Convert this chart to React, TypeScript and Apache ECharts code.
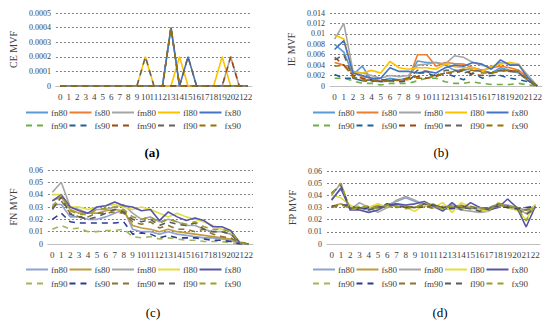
import React, { useEffect, useRef } from "react";
import * as echarts from "echarts";

const CATEGORIES = ["0","1","2","3","4","5","6","7","8","9","10","11","12","13","14","15","16","17","18","19","20","21","22"];
const NAMES = ["fn80", "fs80", "fm80", "fl80", "fx80", "fn90", "fs90", "fm90", "fl90", "fx90"];

// (a) CE MVF
const ceFn80 = [0,0,0,0,0,0,0,0,0,0,0,0,0,0.0004,0,0,0,0,0,0,0,0,0];
const ceFs80 = [0,0,0,0,0,0,0,0,0,0,0,0,0,0,0,0,0,0,0,0,0,0,0];
const ceFm80 = [0,0,0,0,0,0,0,0,0,0,0,0,0,0,0,0,0,0,0,0,0.0002,0,0];
const ceFl80 = [0,0,0,0,0,0,0,0,0,0,0.0002,0,0,0,0.0002,0,0,0,0,0.0002,0,0,0];
const ceFx80 = [0,0,0,0,0,0,0,0,0,0,0,0,0,0.0004,0,0.0002,0,0,0,0,0,0,0];
const ceFn90 = [0,0,0,0,0,0,0,0,0,0,0,0,0,0,0,0,0,0,0,0,0,0,0];
const ceFs90 = [0,0,0,0,0,0,0,0,0,0,0,0,0,0,0,0,0,0,0,0,0,0,0];
const ceFm90 = [0,0,0,0,0,0,0,0,0,0,0,0,0,0,0,0,0,0,0,0,0.0002,0,0];
const ceFl90 = [0,0,0,0,0,0,0,0,0,0,0.0002,0,0,0.0004,0,0.0002,0,0,0,0,0,0,0];
const ceFx90 = [0,0,0,0,0,0,0,0,0,0,0,0,0,0.0004,0,0,0,0,0,0,0,0,0];

// (b) IE MVF
const ieFn80 = [0.008,0.0065,0.0022,0.0038,0.0012,0.001,0.0015,0.0012,0.0015,0.0048,0.0045,0.0045,0.004,0.003,0.003,0.0035,0.003,0.0025,0.0035,0.003,0.0025,0.001,0];
const ieFs80 = [0.0045,0.004,0.0025,0.0018,0.0015,0.001,0.0012,0.001,0.0012,0.006,0.006,0.0038,0.0045,0.0043,0.0042,0.0035,0.003,0.0035,0.0038,0.0035,0.003,0.0015,0];
const ieFm80 = [0.009,0.012,0.0028,0.0025,0.002,0.0015,0.002,0.0018,0.002,0.004,0.0042,0.0045,0.0042,0.0058,0.0055,0.0045,0.004,0.0035,0.0045,0.0042,0.004,0.002,0];
const ieFl80 = [0.0098,0.009,0.0025,0.0025,0.003,0.0025,0.0047,0.0035,0.0032,0.0035,0.0035,0.0032,0.0042,0.0037,0.0035,0.0035,0.0028,0.0038,0.0042,0.0045,0.0042,0.0015,0];
const ieFx80 = [0.007,0.0087,0.0025,0.002,0.0015,0.0015,0.0035,0.0028,0.0028,0.0025,0.0028,0.0025,0.0035,0.004,0.0038,0.0045,0.0042,0.0032,0.005,0.004,0.004,0.0015,0];
const ieFn90 = [0.0015,0.0015,0.001,0.0005,0.0005,0.0002,0.0005,0.0005,0.0005,0.001,0.0015,0.0015,0.0008,0.0005,0.0005,0.0008,0.0005,0.0003,0.0003,0.0003,0.0005,0.0002,0];
const ieFs90 = [0.0022,0.0015,0.0015,0.001,0.0012,0.0008,0.001,0.0008,0.001,0.0025,0.0025,0.0018,0.0025,0.0018,0.0012,0.0025,0.0015,0.002,0.002,0.0015,0.0012,0.0008,0];
const ieFm90 = [0.0055,0.004,0.002,0.0015,0.001,0.0012,0.0012,0.0012,0.0015,0.0018,0.0015,0.0018,0.0025,0.0025,0.003,0.0022,0.002,0.0025,0.003,0.003,0.0025,0.001,0];
const ieFl90 = [0.005,0.006,0.0015,0.001,0.0008,0.0012,0.001,0.0012,0.0015,0.003,0.0028,0.002,0.003,0.003,0.0025,0.003,0.0028,0.0025,0.003,0.0028,0.0025,0.001,0];
const ieFx90 = [0.0038,0.004,0.0018,0.0012,0.001,0.0008,0.001,0.0012,0.0015,0.0015,0.0015,0.002,0.0025,0.0028,0.0032,0.003,0.0025,0.0025,0.0028,0.003,0.0028,0.0012,0];

// (c) FN MVF
const fnFn80 = [0.032,0.032,0.022,0.022,0.02,0.02,0.022,0.025,0.028,0.012,0.01,0.01,0.008,0.01,0.008,0.007,0.006,0.005,0.005,0.004,0.003,0.0005,0];
const fnFs80 = [0.035,0.038,0.028,0.025,0.025,0.025,0.027,0.028,0.027,0.015,0.013,0.012,0.01,0.012,0.01,0.009,0.008,0.007,0.006,0.005,0.004,0.001,0];
const fnFm80 = [0.042,0.05,0.03,0.028,0.025,0.028,0.028,0.03,0.032,0.025,0.02,0.022,0.018,0.02,0.018,0.015,0.015,0.012,0.01,0.01,0.008,0.001,0];
const fnFl80 = [0.04,0.04,0.03,0.03,0.028,0.03,0.031,0.032,0.03,0.028,0.03,0.028,0.025,0.022,0.025,0.022,0.02,0.018,0.015,0.012,0.01,0.002,0];
const fnFx80 = [0.035,0.04,0.03,0.027,0.025,0.03,0.031,0.034,0.031,0.03,0.027,0.028,0.019,0.026,0.022,0.019,0.021,0.019,0.014,0.014,0.011,0.001,0];
const fnFn90 = [0.012,0.015,0.012,0.013,0.01,0.01,0.011,0.011,0.012,0.006,0.005,0.006,0.004,0.005,0.004,0.003,0.003,0.002,0.002,0.002,0.001,0,0];
const fnFs90 = [0.02,0.025,0.018,0.017,0.017,0.017,0.017,0.017,0.018,0.008,0.009,0.008,0.005,0.007,0.005,0.005,0.005,0.004,0.003,0.003,0.002,0,0];
const fnFm90 = [0.03,0.035,0.025,0.022,0.022,0.025,0.025,0.026,0.025,0.018,0.016,0.018,0.013,0.015,0.012,0.012,0.01,0.012,0.008,0.006,0.005,0.001,0];
const fnFl90 = [0.028,0.038,0.024,0.022,0.02,0.022,0.025,0.028,0.026,0.02,0.018,0.02,0.015,0.018,0.016,0.015,0.017,0.012,0.01,0.01,0.008,0.001,0];
const fnFx90 = [0.03,0.04,0.027,0.024,0.024,0.028,0.029,0.03,0.028,0.022,0.02,0.022,0.017,0.02,0.018,0.016,0.018,0.014,0.012,0.012,0.01,0.001,0];

// (d) FP MVF
const fpFn80 = [0.037,0.045,0.03,0.03,0.028,0.03,0.032,0.035,0.038,0.035,0.033,0.03,0.03,0.032,0.03,0.03,0.028,0.03,0.033,0.032,0.03,0.028,0.03];
const fpFs80 = [0.031,0.033,0.03,0.029,0.03,0.032,0.031,0.033,0.031,0.03,0.031,0.033,0.028,0.03,0.032,0.029,0.03,0.028,0.032,0.03,0.028,0.028,0.031];
const fpFm80 = [0.04,0.05,0.028,0.034,0.03,0.026,0.03,0.036,0.039,0.036,0.032,0.031,0.028,0.03,0.028,0.027,0.026,0.027,0.034,0.03,0.03,0.025,0.032];
const fpFl80 = [0.04,0.038,0.032,0.028,0.03,0.033,0.03,0.033,0.03,0.027,0.032,0.03,0.034,0.026,0.034,0.03,0.028,0.027,0.034,0.03,0.028,0.02,0.033];
const fpFx80 = [0.036,0.046,0.028,0.028,0.026,0.028,0.032,0.033,0.032,0.033,0.035,0.031,0.027,0.034,0.028,0.034,0.03,0.028,0.03,0.037,0.03,0.014,0.031];
const fpFn90 = [0.03,0.032,0.03,0.031,0.029,0.031,0.03,0.031,0.03,0.031,0.03,0.03,0.029,0.031,0.029,0.03,0.03,0.029,0.031,0.03,0.029,0.029,0.03];
const fpFs90 = [0.031,0.032,0.032,0.028,0.03,0.03,0.033,0.031,0.03,0.031,0.03,0.032,0.03,0.029,0.031,0.03,0.029,0.03,0.031,0.03,0.029,0.03,0.031];
const fpFm90 = [0.03,0.033,0.029,0.03,0.031,0.03,0.032,0.03,0.031,0.03,0.032,0.029,0.031,0.03,0.03,0.031,0.029,0.03,0.032,0.031,0.03,0.028,0.03];
const fpFl90 = [0.042,0.048,0.029,0.03,0.028,0.03,0.031,0.032,0.03,0.03,0.033,0.032,0.03,0.031,0.03,0.029,0.027,0.029,0.033,0.031,0.029,0.024,0.03];
const fpFx90 = [0.041,0.05,0.028,0.03,0.031,0.029,0.032,0.031,0.029,0.03,0.034,0.031,0.029,0.032,0.031,0.03,0.03,0.028,0.033,0.031,0.03,0.019,0.032];

const COLORS_AB = ["#5B9BD5", "#ED7D31", "#A5A5A5", "#FFC000", "#4472C4", "#70AD47", "#255E91", "#9E480E", "#636363", "#997300"];
const COLORS_CD = ["#8FA2D2", "#BE9B3C", "#A6A6A6", "#E2DC3E", "#5656A8", "#A0B85A", "#2E3A8E", "#8A7430", "#5A5A5A", "#9C9C2E"];

const FONT = "'Liberation Serif', 'Times New Roman', serif";

type Panel = {
  caption: string;
  bold: boolean;
  yName: string;
  max: number;
  interval: number;
  data: number[][];
  colors: string[];
  grid: { left: number; top: number; width: number; height: number };
  nameGap: number;
  legendLeft: number;
  legendTop: [number, number];
  captionPos: [number, number];
};

const PANELS: Panel[] = [
  {
    caption: "(a)", bold: true, yName: "CE MVF", max: 0.0005, interval: 0.0001,
    data: [ceFn80, ceFs80, ceFm80, ceFl80, ceFx80, ceFn90, ceFs90, ceFm90, ceFl90, ceFx90],
    colors: COLORS_AB, grid: { left: 47, top: 13, width: 205, height: 73 }, nameGap: 32,
    legendLeft: 25, legendTop: [108, 121], captionPos: [152, 152],
  },
  {
    caption: "(b)", bold: false, yName: "IE MVF", max: 0.014, interval: 0.002,
    data: [ieFn80, ieFs80, ieFm80, ieFl80, ieFx80, ieFn90, ieFs90, ieFm90, ieFl90, ieFx90],
    colors: COLORS_AB, grid: { left: 55, top: 13, width: 212, height: 73 }, nameGap: 20,
    legendLeft: 37, legendTop: [108, 121], captionPos: [166, 152],
  },
  {
    caption: "(c)", bold: false, yName: "FN MVF", max: 0.06, interval: 0.01,
    data: [fnFn80, fnFs80, fnFm80, fnFl80, fnFx80, fnFn90, fnFs90, fnFm90, fnFl90, fnFx90],
    colors: COLORS_CD, grid: { left: 40, top: 9, width: 213, height: 74 }, nameGap: 25,
    legendLeft: 25, legendTop: [104, 118], captionPos: [153, 151],
  },
  {
    caption: "(d)", bold: false, yName: "FP MVF", max: 0.06, interval: 0.01,
    data: [fpFn80, fpFs80, fpFm80, fpFl80, fpFx80, fpFn90, fpFs90, fpFm90, fpFl90, fpFx90],
    colors: COLORS_CD, grid: { left: 52, top: 10, width: 213, height: 73 }, nameGap: 17,
    legendLeft: 37, legendTop: [104, 118], captionPos: [165, 151],
  },
];

function fmt(v: number): string {
  if (v === 0) return "0";
  return String(parseFloat(v.toFixed(6)));
}

function buildOption(p: Panel) {
  const legendCommon = {
    orient: "horizontal" as const,
    left: p.legendLeft,
    itemWidth: 22,
    itemHeight: 8,
    itemGap: 1,
    padding: 0,
    selectedMode: false,
    itemStyle: { opacity: 0 },
    textStyle: { fontFamily: FONT, fontSize: 9, color: "#404040", width: 16, padding: [0, 0, 0, -2] },
  };
  return {
    animation: false,
    backgroundColor: "#ffffff",
    grid: p.grid,
    legend: [
      { ...legendCommon, top: p.legendTop[0], data: NAMES.slice(0, 5) },
      { ...legendCommon, top: p.legendTop[1], data: NAMES.slice(5) },
    ],
    xAxis: {
      type: "category",
      data: CATEGORIES,
      boundaryGap: true,
      axisTick: { show: false },
      axisLine: { lineStyle: { color: "#bfbfbf", width: 1 } },
      axisLabel: { interval: 0, fontFamily: FONT, fontSize: 9, color: "#404040", margin: 6 },
    },
    yAxis: {
      type: "value",
      min: 0,
      max: p.max,
      interval: p.interval,
      name: p.yName,
      nameLocation: "middle",
      nameGap: p.nameGap,
      nameTextStyle: { fontFamily: FONT, fontSize: 10, color: "#404040" },
      axisLine: { show: false },
      axisTick: { show: false },
      axisLabel: { fontFamily: FONT, fontSize: 8, color: "#404040", formatter: fmt, margin: 5 },
      splitLine: { lineStyle: { color: "#808080", type: [2, 2], width: 1 } },
    },
    series: NAMES.map((name, i) => ({
      name,
      type: "line",
      data: p.data[i],
      symbol: "none",
      color: p.colors[i],
      lineStyle: {
        color: p.colors[i],
        width: 1.6,
        type: i >= 5 ? [6, 5] : "solid",
      },
    })),
    graphic: [
      {
        type: "text",
        x: p.captionPos[0],
        y: p.captionPos[1],
        style: {
          text: p.caption,
          font: `${p.bold ? "bold " : ""}13px ${FONT}`,
          fill: "#000000",
          textAlign: "center",
          textVerticalAlign: "middle",
          align: "center",
          verticalAlign: "middle",
        },
      },
    ],
  };
}

function ChartPanel({ panel, left, top }: { panel: Panel; left: number; top: number }) {
  const ref = useRef<HTMLDivElement>(null);
  useEffect(() => {
    if (!ref.current) return;
    const chart = echarts.init(ref.current, undefined, { renderer: "svg" });
    chart.setOption(buildOption(panel) as any);
    return () => chart.dispose();
  }, [panel]);
  return <div ref={ref} style={{ position: "absolute", left, top, width: 275, height: 161 }} />;
}

export default function App() {
  return (
    <div style={{ position: "absolute", left: 0, top: 0, width: 550, height: 322, background: "#ffffff", overflow: "hidden" }}>
      <ChartPanel panel={PANELS[0]} left={0} top={0} />
      <ChartPanel panel={PANELS[1]} left={275} top={0} />
      <ChartPanel panel={PANELS[2]} left={0} top={161} />
      <ChartPanel panel={PANELS[3]} left={275} top={161} />
    </div>
  );
}
